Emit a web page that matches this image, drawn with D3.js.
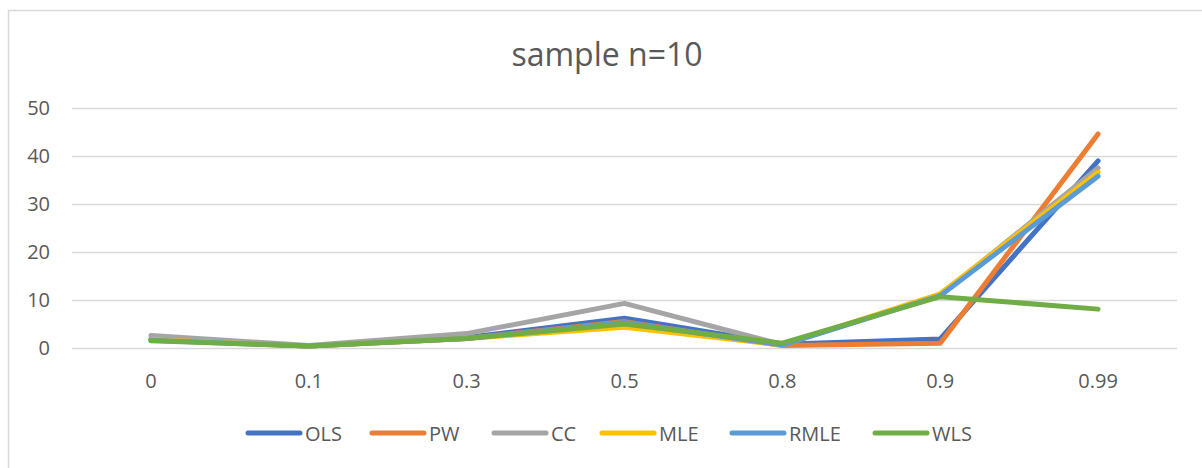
<!DOCTYPE html>
<html>
<head>
<meta charset="utf-8">
<script src="https://cdn.jsdelivr.net/npm/d3@7"></script>
<style>
  body { margin: 0; background: #fff; }
  text { font-family: "Open Sans", "Noto Sans", sans-serif; fill: #595959; }
</style>
</head>
<body>
<div id="chart"></div>
<script>
var categories = ['0', '0.1', '0.3', '0.5', '0.8', '0.9', '0.99'];
var seriesNames = ['OLS', 'PW', 'CC', 'MLE', 'RMLE', 'WLS'];
var seriesColors = ['#4472C4', '#ED7D31', '#A5A5A5', '#FFC000', '#5B9BD5', '#70AD47'];
var olsValues = [1.8, 0.4, 2.2, 6.2, 0.8, 1.9, 39.0];
var pwValues = [1.8, 0.4, 2.0, 5.5, 0.5, 1.0, 44.6];
var ccValues = [2.6, 0.5, 3.0, 9.3, 0.7, 11.0, 37.5];
var mleValues = [1.7, 0.4, 2.0, 4.3, 0.6, 11.3, 36.6];
var rmleValues = [1.6, 0.4, 2.0, 5.3, 0.6, 10.9, 35.8];
var wlsValues = [1.5, 0.4, 2.0, 5.0, 1.0, 10.7, 8.1];
var yTicks = [0, 10, 20, 30, 40, 50];

var series = [olsValues, pwValues, ccValues, mleValues, rmleValues, wlsValues];

var width = 1202,
  height = 468;

var svg = d3.select('#chart')
  .append('svg')
  .attr('width', width)
  .attr('height', height);

// chart frame, runs off the right and bottom edges
svg.append('rect')
  .attr('x', 8.5)
  .attr('y', 10.5)
  .attr('width', 1300)
  .attr('height', 600)
  .attr('fill', 'none')
  .attr('stroke', '#d9d9d9')
  .attr('stroke-width', 1.5);

var x = d3.scaleBand()
  .domain(categories)
  .range([72, 1177]);

var y = d3.scaleLinear()
  .domain([0, 50])
  .range([348, 108]);

// gridlines
svg.append('g')
  .selectAll('line')
  .data(yTicks)
  .enter()
  .append('line')
  .attr('x1', 72)
  .attr('x2', 1177)
  .attr('y1', function(d) { return Math.round(y(d)) + 0.5; })
  .attr('y2', function(d) { return Math.round(y(d)) + 0.5; })
  .attr('stroke', '#d9d9d9')
  .attr('stroke-width', 1.5);

// y axis labels
var yAxis = d3.axisLeft(y)
  .tickValues(yTicks)
  .tickSize(0)
  .tickPadding(0);
var yG = svg.append('g')
  .attr('transform', 'translate(50,0)')
  .call(yAxis);
yG.select('.domain').remove();
yG.selectAll('text')
  .attr('font-size', '20px')
  .attr('font-family', '"Open Sans", sans-serif')
  .attr('fill', '#595959');

// x axis labels
var xAxis = d3.axisBottom(x)
  .tickSize(0)
  .tickPadding(0);
var xG = svg.append('g')
  .call(xAxis);
xG.select('.domain').remove();
xG.selectAll('text')
  .attr('y', 388)
  .attr('dy', 0)
  .attr('font-size', '20px')
  .attr('font-family', '"Open Sans", sans-serif')
  .attr('fill', '#595959');

// lines
var line = d3.line()
  .x(function(d, i) { return x(categories[i]) + x.bandwidth() / 2; })
  .y(function(d) { return y(d); });

series.forEach(function(values, i) {
  svg.append('path')
    .datum(values)
    .attr('d', line)
    .attr('fill', 'none')
    .attr('stroke', seriesColors[i])
    .attr('stroke-width', 5)
    .attr('stroke-linecap', 'round')
    .attr('stroke-linejoin', 'round');
});

// title
svg.append('text')
  .attr('x', 607)
  .attr('y', 66)
  .attr('text-anchor', 'middle')
  .attr('font-size', '32px')
  .attr('fill', '#595959')
  .text('sample n=10');

// legend
var legendX = [246, 370, 492, 600, 730, 873];
var legend = svg.append('g');
seriesNames.forEach(function(name, i) {
  legend.append('line')
    .attr('x1', legendX[i] + 2)
    .attr('x2', legendX[i] + 54)
    .attr('y1', 433)
    .attr('y2', 433)
    .attr('stroke', seriesColors[i])
    .attr('stroke-width', 5)
    .attr('stroke-linecap', 'round');
  legend.append('text')
    .attr('x', legendX[i] + 59)
    .attr('y', 441)
    .attr('font-size', '20px')
    .attr('fill', '#595959')
    .text(name);
});
</script>
</body>
</html>
